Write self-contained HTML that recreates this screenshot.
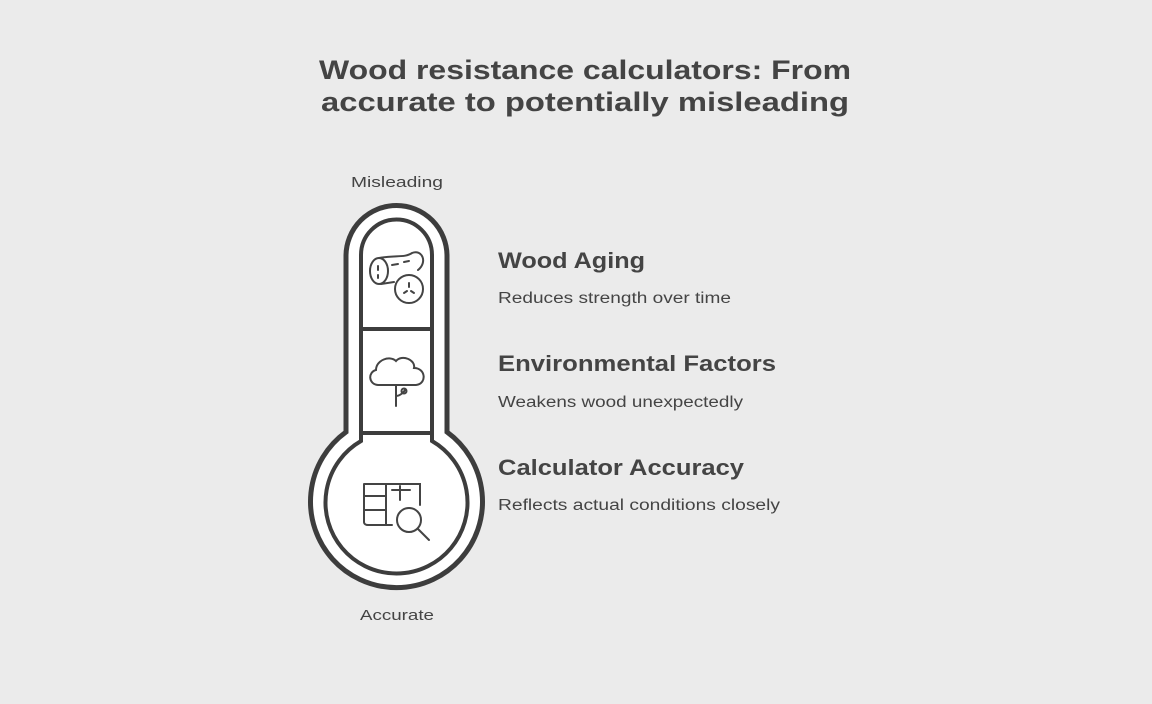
<!DOCTYPE html>
<html><head><meta charset="utf-8"><style>
html,body{margin:0;padding:0;background:#ebebeb;}
svg{display:block;font-family:"Liberation Sans",sans-serif;}
</style></head><body>
<svg width="1152" height="704" viewBox="0 0 1152 704">
<rect width="1152" height="704" fill="#ebebeb"/>
<g fill="#444" font-weight="bold" font-size="27">
<text x="319" y="79" textLength="532" lengthAdjust="spacingAndGlyphs">Wood resistance calculators: From</text>
<text x="321" y="111" textLength="528" lengthAdjust="spacingAndGlyphs">accurate to potentially misleading</text>
</g>
<g fill="#444" font-size="15">
<text x="351" y="187" textLength="92" lengthAdjust="spacingAndGlyphs">Misleading</text>
<text x="360" y="620" textLength="74" lengthAdjust="spacingAndGlyphs">Accurate</text>
</g>
<!-- thermometer -->
<path d="M346,432 L346,256 A50.5,50.5 0 0 1 447,256 L447,432 A86,86 0 1 1 346,432 Z" fill="#fff" stroke="#3d3d3d" stroke-width="5"/>
<path d="M361,441 L361,255 A35.5,35.5 0 0 1 432,255 L432,441 A71,71 0 1 1 361,441 Z" fill="#fff" stroke="#3d3d3d" stroke-width="4"/>
<line x1="361" y1="329" x2="432" y2="329" stroke="#3d3d3d" stroke-width="4"/>
<line x1="361" y1="433" x2="432" y2="433" stroke="#3d3d3d" stroke-width="4"/>
<!-- icons -->
<g fill="none" stroke="#444" stroke-width="2" stroke-linecap="round">
<ellipse cx="379" cy="271" rx="9" ry="13"/>
<path d="M379,258 C395,255 405,258 412,253 C422,249 428,262 418,270"/>
<path d="M381,284 L394,282"/>
<path d="M378,266 L378,270 M378,275 L378,278"/>
<path d="M392,265 L398,264 M404,262 L409,261"/>
<circle cx="409" cy="289" r="14"/>
<path d="M409,283 L409,287 M404,293 L407,291 M414,293 L411,291"/>
<path d="M378,385 C368,384 368,372 376,370 C376,360 390,355 396,361 C402,354 416,360 414,368 C426,368 427,384 416,385 Z"/>
<path d="M396,385 L396,406 M396,396 C400,396 404,392 405,390"/>
<circle cx="404" cy="391" r="2.5"/>
<path d="M364,484 L364,522 C364,524 366,525 368,525 L392,525 M364,484 L420,484 L420,505 M364,496 L386,496 M364,510 L386,510 M386,484 L386,525 M400,486 L400,500 M392,490 L410,490"/>
<circle cx="409" cy="520" r="12"/>
<path d="M418,529 L429,540"/>
</g>
<!-- labels -->
<g fill="#444">
<text x="498" y="268" font-size="22" font-weight="bold" textLength="147" lengthAdjust="spacingAndGlyphs">Wood Aging</text>
<text x="498" y="303" font-size="15.5" textLength="233" lengthAdjust="spacingAndGlyphs">Reduces strength over time</text>
<text x="498" y="371" font-size="22" font-weight="bold" textLength="278" lengthAdjust="spacingAndGlyphs">Environmental Factors</text>
<text x="498" y="407" font-size="15.5" textLength="245" lengthAdjust="spacingAndGlyphs">Weakens wood unexpectedly</text>
<text x="498" y="475" font-size="22" font-weight="bold" textLength="246" lengthAdjust="spacingAndGlyphs">Calculator Accuracy</text>
<text x="498" y="510" font-size="15.5" textLength="282" lengthAdjust="spacingAndGlyphs">Reflects actual conditions closely</text>
</g>
</svg>
</body></html>
